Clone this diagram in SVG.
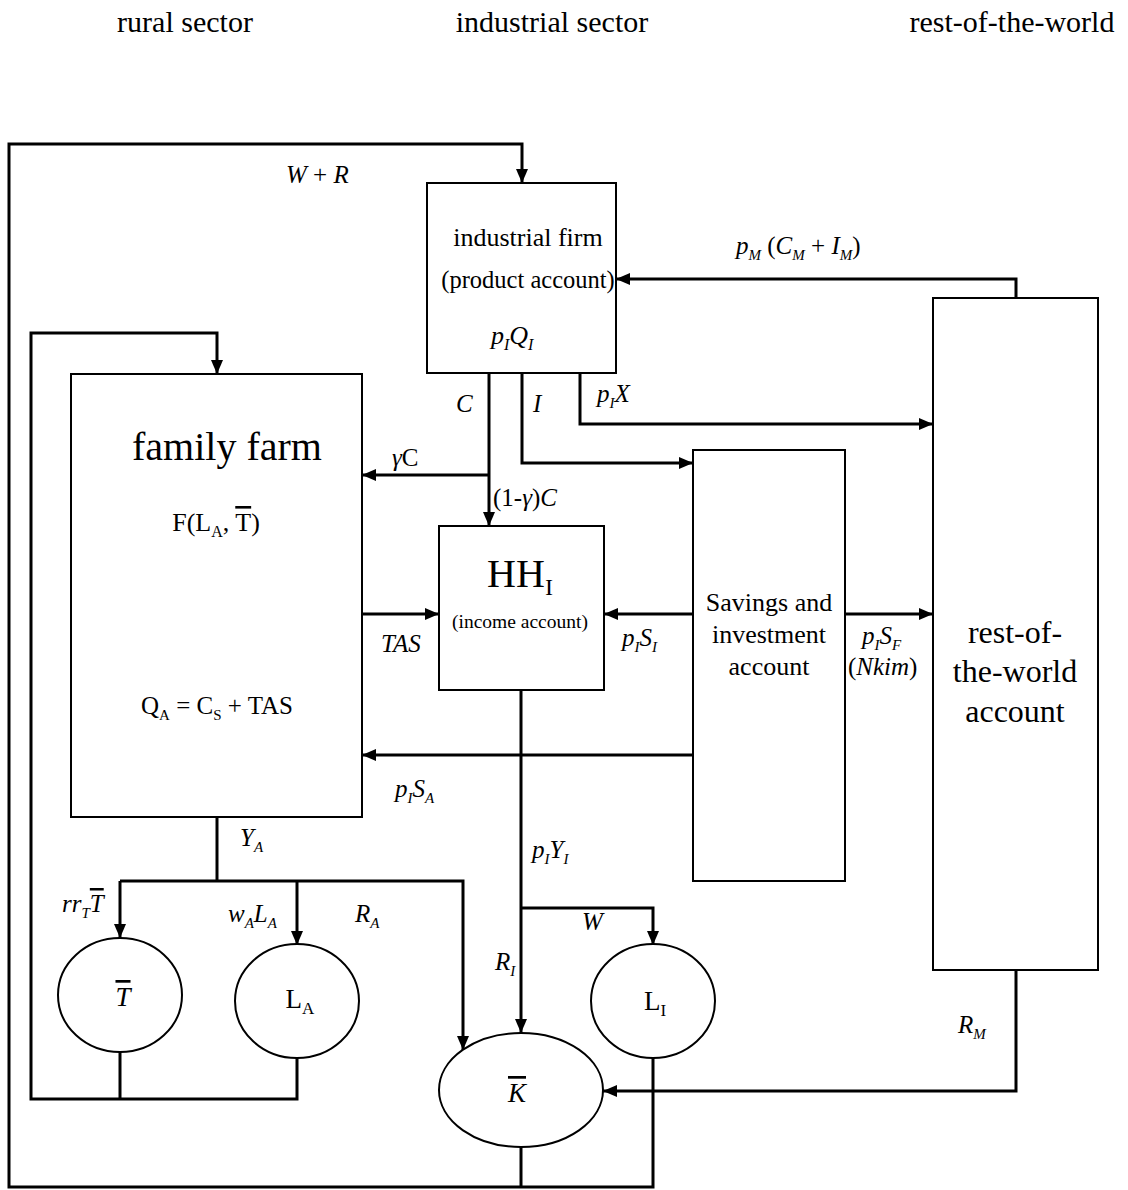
<svg xmlns="http://www.w3.org/2000/svg" width="1128" height="1190" viewBox="0 0 1128 1190">
<defs>
<marker id="ah" viewBox="0 0 14 12" markerWidth="14" markerHeight="12" refX="14" refY="6" orient="auto" markerUnits="userSpaceOnUse"><path d="M0,0 L14,6 L0,12 z" fill="#000"/></marker>
</defs>
<style>
.t{font-family:"Liberation Serif","Times New Roman",serif;fill:#000}
.i{font-style:italic}
.n{font-style:normal}
.m{text-anchor:middle}
.box{fill:#fff;stroke:#000;stroke-width:2}
.conn path{fill:none;stroke:#000;stroke-width:3}
.conn path.a{marker-end:url(#ah)}
.ov{text-decoration:overline}
</style>
<rect width="1128" height="1190" fill="#fff"/>

<g id="headers" class="t m" font-size="30">
<text x="185" y="32">rural sector</text>
<text x="552" y="32">industrial sector</text>
<text x="1012" y="32">rest-of-the-world</text>
</g>

<g id="connectors" class="conn">
<path class="a" d="M653,1058 V1187 H9 V144 H522 V183"/>
<path d="M521,1147 V1187"/>
<path class="a" d="M297,1058 V1099 H31 V333 H217 V374"/>
<path d="M120,1052 V1099"/>
<path class="a" d="M1016,298 V279 H616"/>
<path class="a" d="M489,373 V526"/>
<path class="a" d="M489,475 H362"/>
<path class="a" d="M522,373 V463 H693"/>
<path class="a" d="M580,373 V424 H933"/>
<path class="a" d="M362,614 H439"/>
<path class="a" d="M693,614 H604"/>
<path class="a" d="M845,614 H933"/>
<path class="a" d="M693,755 H362"/>
<path class="a" d="M521,690 V1033"/>
<path class="a" d="M521,908 H653 V945"/>
<path d="M217,817 V881"/>
<path class="a" d="M120,881 H463 V1050"/>
<path class="a" d="M120,881 V938"/>
<path class="a" d="M297,881 V945"/>
<path class="a" d="M1016,970 V1091 H603"/>
<path class="a" d="M210,563 V653"/>
</g>

<g id="industrial-firm">
<rect class="box" x="427" y="183" width="189" height="190"/>
<text class="t m" font-size="26" x="528" y="246">industrial firm</text>
<text class="t m" font-size="24.5" x="528" y="288">(product account)</text>
<text class="t i" font-size="26" x="491" y="344">p<tspan font-size="16" dy="6">I</tspan><tspan dy="-6">Q</tspan><tspan font-size="16" dy="6">I</tspan></text>
</g>

<g id="family-farm">
<rect class="box" x="71" y="374" width="291" height="443"/>
<text class="t m" font-size="40" x="227" y="460">family farm</text>
<text class="t m" font-size="26" x="216" y="531">F(L<tspan font-size="16" dy="6">A</tspan><tspan dy="-6">, </tspan><tspan class="ov">T</tspan>)</text>
<text class="t m" font-size="25" x="217" y="714">Q<tspan font-size="15" dy="6">A</tspan><tspan dy="-6"> = C</tspan><tspan font-size="15" dy="6">S</tspan><tspan dy="-6"> + TAS</tspan></text>
</g>

<g id="hh-income">
<rect class="box" x="439" y="526" width="165" height="164"/>
<text class="t m" font-size="40" x="520" y="587">HH<tspan font-size="24" dy="8">I</tspan></text>
<text class="t m" font-size="19.5" x="520" y="628">(income account)</text>
</g>

<g id="savings-investment">
<rect class="box" x="693" y="450" width="152" height="431"/>
<text class="t m" font-size="26" x="769" y="611">Savings and</text>
<text class="t m" font-size="26" x="769" y="643">investment</text>
<text class="t m" font-size="26" x="769" y="675">account</text>
</g>

<g id="rest-of-world">
<rect class="box" x="933" y="298" width="165" height="672"/>
<text class="t m" font-size="32" x="1015" y="643">rest-of-</text>
<text class="t m" font-size="32" x="1015" y="682">the-world</text>
<text class="t m" font-size="32" x="1015" y="722">account</text>
</g>

<g id="land">
<ellipse class="box" cx="120" cy="995" rx="62" ry="57"/>
<text class="t i m" font-size="27" x="123" y="1006"><tspan class="ov">T</tspan></text>
</g>
<g id="labour-a">
<ellipse class="box" cx="297" cy="1001" rx="62" ry="57"/>
<text class="t m" font-size="27" x="300" y="1008">L<tspan font-size="17" dy="6">A</tspan></text>
</g>
<g id="labour-i">
<ellipse class="box" cx="653" cy="1001" rx="62" ry="57"/>
<text class="t m" font-size="27" x="655" y="1010">L<tspan font-size="17" dy="6">I</tspan></text>
</g>
<g id="capital">
<ellipse class="box" cx="521" cy="1090" rx="82" ry="57"/>
<text class="t i m" font-size="27" x="517" y="1102"><tspan class="ov">K</tspan></text>
</g>

<g id="labels" class="t i" font-size="25">
<text x="286" y="183">W<tspan class="n"> + </tspan>R</text>
<text x="736" y="254">p<tspan font-size="15" dy="6">M</tspan><tspan class="n" dy="-6"> (</tspan>C<tspan font-size="15" dy="6">M</tspan><tspan class="n" dy="-6"> + </tspan>I<tspan font-size="15" dy="6">M</tspan><tspan class="n" dy="-6">)</tspan></text>
<text x="456" y="412">C</text>
<text x="533" y="412">I</text>
<text x="597" y="402">p<tspan font-size="15" dy="6">I</tspan><tspan dy="-6">X</tspan></text>
<text x="392" y="466">γ<tspan class="n">C</tspan></text>
<text x="493" y="506"><tspan class="n">(1-</tspan>γ<tspan class="n">)</tspan>C</text>
<text x="381" y="652">TAS</text>
<text x="622" y="646">p<tspan font-size="15" dy="6">I</tspan><tspan dy="-6">S</tspan><tspan font-size="15" dy="6">I</tspan></text>
<text x="862" y="644">p<tspan font-size="15" dy="6">I</tspan><tspan dy="-6">S</tspan><tspan font-size="15" dy="6">F</tspan></text>
<text x="848" y="675"><tspan class="n">(</tspan>Nkim<tspan class="n">)</tspan></text>
<text x="395" y="797">p<tspan font-size="15" dy="6">I</tspan><tspan dy="-6">S</tspan><tspan font-size="15" dy="6">A</tspan></text>
<text x="240" y="846">Y<tspan font-size="15" dy="6">A</tspan></text>
<text x="532" y="858">p<tspan font-size="15" dy="6">I</tspan><tspan dy="-6">Y</tspan><tspan font-size="15" dy="6">I</tspan></text>
<text x="62" y="912">rr<tspan font-size="15" dy="6">T</tspan><tspan class="ov" dy="-6">T</tspan></text>
<text x="228" y="922">w<tspan font-size="15" dy="6">A</tspan><tspan dy="-6">L</tspan><tspan font-size="15" dy="6">A</tspan></text>
<text x="355" y="922">R<tspan font-size="15" dy="6">A</tspan></text>
<text x="582" y="930">W</text>
<text x="495" y="970">R<tspan font-size="15" dy="6">I</tspan></text>
<text x="958" y="1033">R<tspan font-size="15" dy="6">M</tspan></text>
</g>
</svg>
